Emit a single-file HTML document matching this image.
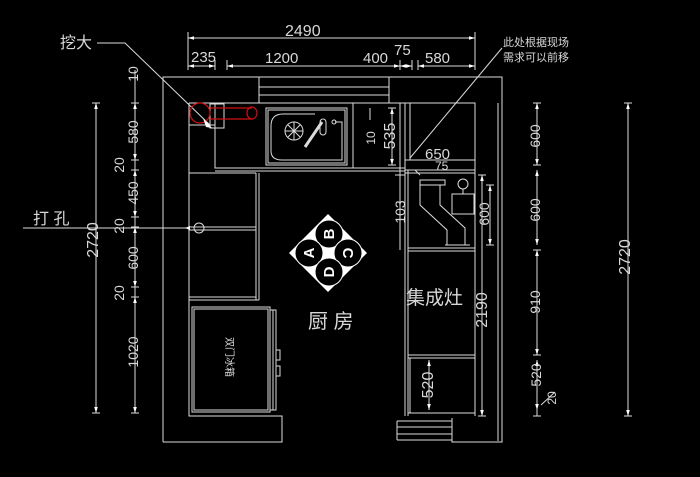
<!DOCTYPE html>
<html><head><meta charset="utf-8"><style>
html,body{margin:0;padding:0;background:#000;}
svg{display:block}
text{font-family:"Liberation Sans","Noto Sans CJK SC",sans-serif;fill:#d8d8d8;}
</style></head><body>
<svg width="700" height="477" viewBox="0 0 700 477" xmlns="http://www.w3.org/2000/svg">
<rect width="700" height="477" fill="#000"/>
<defs>
<marker id="a" viewBox="0 0 10 10" refX="10" refY="5" markerWidth="6" markerHeight="6" orient="auto-start-reverse"><path d="M0,2 L10,5 L0,8z" fill="#fff"/></marker>
</defs>
<g stroke="#dcdcdc" stroke-width="1" fill="none">
<path d="M163,442 V77 H502 V442 H452 V418"/>
<path d="M498,103 V441"/>
<path d="M189,103 H475 V416"/>
<path d="M189,103 V416 H282 V442 H163"/>
<path d="M259,77 V103 M389,77 V103 M259,87 H389 M259,95 H389"/>
<path d="M215,103 V168 H405 M215,171 H405 M189,173 H256 M256,173 V300 M259,173 V300 M189,227 H256 M189,230 H256 M189,297 H256 M189,300 H259"/>
<path d="M189,125 H215 M353,103 V168 M400,103 V250"/>
<rect x="210" y="104" width="14" height="24"/>
<rect x="266" y="108" width="81" height="57"/>
<rect x="268" y="110" width="77" height="53"/>
<path d="M283,114 H315 M283,114 Q271,114 271,126 V151 Q271,160 282,160 H342 V122 H335"/>
<circle cx="294" cy="131" r="9"/>
<path d="M294,122 V140 M285,131 H303 M288,125 L300,137 M300,125 L288,137"/>
<path d="M305,147 L322,122" stroke-width="3"/>
<rect x="320" y="119" width="6" height="16" rx="3"/>
<circle cx="334" cy="122" r="2"/>
<path d="M405,103 V416 M408,170 V416 M405,170 H475 M405,173 H475 M408,248 H475 M408,251 H475 M408,355 H475 M408,358 H475 M410,358 V413 M408,413 H475"/>
<path d="M405,103 H475 M410,103 V160"/>
<path d="M420,180 H445 V185 H420z M420,185 V205 L447,230 V245 M440,185 V205 L465,228 V245 M445,245 H470"/>
<rect x="452" y="194" width="22" height="20"/>
<circle cx="463" cy="184" r="5"/>
<path d="M463,189 V194"/>
<path d="M397,421 H452 M397,427 H452 M397,434 H452 M397,440 H452 M397,421 V440"/>
<rect x="192" y="307" width="78" height="105"/>
<rect x="194" y="309" width="74" height="101"/>
<path d="M270,310 H276 V410 H270 M273,310 V410"/>
<path d="M276,350 H280 V360 H276 M276,366 H280 V376 H276"/>
<circle cx="199" cy="228" r="5"/>
<path d="M188,38 H475" marker-start="url(#a)" marker-end="url(#a)"/>
<path d="M188,32 V70 M475,32 V70 M215,60 V70 M227,60 V70 M400,60 V70 M412,60 V70 M418,60 V70"/>
<path d="M188,66 H215" marker-start="url(#a)" marker-end="url(#a)"/>
<path d="M227,66 H400" marker-start="url(#a)" marker-end="url(#a)"/>
<path d="M400,66 H412" marker-start="url(#a)" marker-end="url(#a)"/>
<path d="M418,66 H475" marker-start="url(#a)" marker-end="url(#a)"/>
<path d="M135,70 V103 M92,103 H100 M92,413 H100"/>
<path d="M96,103 V413" marker-start="url(#a)" marker-end="url(#a)"/>
<path d="M131,103 H139 M131,160 H139 M131,170 H139 M131,217 H139 M131,227 H139 M131,287 H139 M131,297 H139 M131,413 H139"/>
<path d="M135,103 V160" marker-start="url(#a)" marker-end="url(#a)"/>
<path d="M135,160 V170"/>
<path d="M135,170 V217" marker-start="url(#a)" marker-end="url(#a)"/>
<path d="M135,217 V227"/>
<path d="M135,227 V287" marker-start="url(#a)" marker-end="url(#a)"/>
<path d="M135,287 V297"/>
<path d="M135,297 V413" marker-start="url(#a)" marker-end="url(#a)"/>
<path d="M533,103 H541 M533,165 H541 M533,250 H541 M533,355 H541 M533,416 H541 M624,103 H632 M624,416 H632 M541,405 L555,392"/>
<path d="M537,103 V165" marker-start="url(#a)" marker-end="url(#a)"/>
<path d="M537,170 V245" marker-start="url(#a)" marker-end="url(#a)"/>
<path d="M537,250 V355" marker-start="url(#a)" marker-end="url(#a)"/>
<path d="M537,360 V410" marker-start="url(#a)" marker-end="url(#a)"/>
<path d="M537,410 V416"/>
<path d="M628,103 V416" marker-start="url(#a)" marker-end="url(#a)"/>
<path d="M482,175 V416" marker-start="url(#a)" marker-end="url(#a)"/>
<path d="M478,175 H486 M478,416 H486 M486,185 H494 M486,245 H494"/>
<path d="M490,185 V245" marker-start="url(#a)" marker-end="url(#a)"/>
<path d="M429,360 V410" marker-start="url(#a)" marker-end="url(#a)"/>
<path d="M392,108 V165" marker-start="url(#a)" marker-end="url(#a)"/>
<path d="M370,108 V120 M388,108 H396 M388,165 H396"/>
<path d="M405,160 H475 M395,175 H405 M415,170 L420,175"/>
<path d="M97,43 H125 L210,125"/>
<path d="M23,228 H190"/>
<path d="M502,48 L410,158"/>
</g>
<g stroke="#d01010" stroke-width="1.2" fill="none">
<circle cx="200" cy="113" r="10"/>
<path d="M210,108 H252 M210,119 H252"/>
<ellipse cx="252" cy="113" rx="5" ry="6"/>
</g>
<path d="M203,118 L212,128 L206,127z" fill="#fff"/>
<path d="M185,228 L190,226 L190,230z" fill="#fff"/>
<path d="M328,214 L367,253 L328,292 L289,253z" fill="#fff"/>
<g fill="#000" stroke="#fff" stroke-width="1">
<circle cx="329" cy="234" r="14"/><circle cx="309" cy="253" r="14"/><circle cx="348" cy="253" r="14"/><circle cx="329" cy="272" r="14"/>
</g>
<g font-size="15" font-weight="bold" text-anchor="middle">
<text transform="translate(314,253) rotate(-90)" style="fill:#fff">A</text>
<text transform="translate(334,234) rotate(-90)" style="fill:#fff">B</text>
<text transform="translate(343,253) rotate(90)" style="fill:#fff">C</text>
<text transform="translate(334,272) rotate(-90)" style="fill:#fff">D</text>
</g>
<g font-size="15">
<text x="285" y="36" font-size="16">2490</text>
<text x="191" y="62">235</text>
<text x="265" y="63">1200</text>
<text x="363" y="63">400</text>
<text x="394" y="55">75</text>
<text x="425" y="63">580</text>
<text x="425" y="159">650</text>
<text x="435" y="170" font-size="12">75</text>
</g>
<g font-size="14" text-anchor="middle">
<text transform="translate(138,74) rotate(-90)">10</text>
<text transform="translate(138,132) rotate(-90)">580</text>
<text transform="translate(124,165) rotate(-90)">20</text>
<text transform="translate(138,193) rotate(-90)">450</text>
<text transform="translate(124,226) rotate(-90)">20</text>
<text transform="translate(138,258) rotate(-90)">600</text>
<text transform="translate(124,293) rotate(-90)">20</text>
<text transform="translate(138,352) rotate(-90)">1020</text>
<text transform="translate(98,240) rotate(-90)" font-size="16">2720</text>
<text transform="translate(540,136) rotate(-90)">600</text>
<text transform="translate(540,210) rotate(-90)">600</text>
<text transform="translate(540,302) rotate(-90)">910</text>
<text transform="translate(541,375) rotate(-90)">520</text>
<text transform="translate(556,398) rotate(-90)" font-size="12">20</text>
<text transform="translate(630,257) rotate(-90)" font-size="16">2720</text>
<text transform="translate(375,138) rotate(-90)" font-size="12">10</text>
<text transform="translate(395,136) rotate(-90)" font-size="16">535</text>
<text transform="translate(405,212) rotate(-90)">103</text>
<text transform="translate(489,214) rotate(-90)">600</text>
<text transform="translate(487,310) rotate(-90)" font-size="16">2190</text>
<text transform="translate(433,385) rotate(-90)" font-size="16">520</text>
<text transform="translate(226,357) rotate(90)" font-size="10">双门冰箱</text>
</g>
<text x="60" y="48" font-size="16">挖大</text>
<text x="33" y="224" font-size="16">打 孔</text>
<text x="308" y="328" font-size="20">厨 房</text>
<text x="406" y="304" font-size="19">集成灶</text>
<text x="503" y="46" font-size="11">此处根据现场</text>
<text x="503" y="61" font-size="11">需求可以前移</text>
</svg>
</body></html>
